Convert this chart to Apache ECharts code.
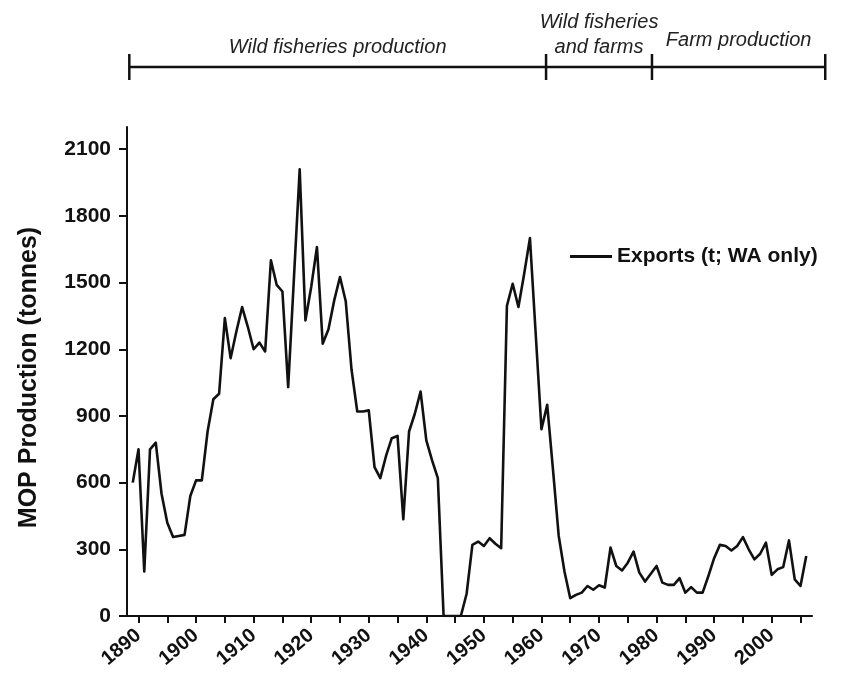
<!DOCTYPE html>
<html>
<head>
<meta charset="utf-8">
<script src="https://cdn.jsdelivr.net/npm/echarts@6/dist/echarts.min.js"></script>
<style>
html,body{margin:0;padding:0;background:#fff;}
#chart{width:854px;height:673px;}
</style>
</head>
<body>
<div id="chart"></div>
<script>
var years = [];
for (var y = 1889; y <= 2006; y++) years.push(y);
var exportsTonnes = [
  600, 750, 200, 750, 780, 550, 420, 355, 360, 365,
  540, 610, 610, 830, 975, 1000, 1340, 1160, 1280, 1390,
  1300, 1200, 1230, 1190, 1600, 1490, 1460, 1030, 1520, 2010,
  1330, 1480, 1660, 1225, 1290, 1420, 1525, 1416, 1110, 920,
  920, 925, 670, 620, 720, 800, 810, 435, 830, 910,
  1010, 790, 700, 620, 0, 0, 0, 0, 100, 320,
  335, 315, 350, 325, 305, 1395, 1495, 1390, 1540, 1700,
  1270, 840, 950, 660, 360, 200, 80, 95, 105, 135,
  118, 138, 128, 308, 225, 205, 240, 290, 195, 155,
  190, 225, 150, 140, 140, 170, 105, 130, 105, 105,
  180, 260, 320, 315, 295, 315, 355, 300, 255, 280,
  330, 185, 210, 220, 340, 165, 135, 270
];
var xLabelYears = [1890, 1900, 1910, 1920, 1930, 1940, 1950, 1960, 1970, 1980, 1990, 2000];
var xTickYears = [];
for (var t = 1890; t <= 2005; t += 5) xTickYears.push(t);
var yTicks = [0, 300, 600, 900, 1200, 1500, 1800, 2100];
var periodBounds = [1888.4, 1960.8, 1979.2, 2009.3];
var periodLabels = [["Wild fisheries production"], ["Wild fisheries", "and farms"], ["Farm production"]];
var seriesName = "Exports (t; WA only)";
var yTitle = "MOP Production (tonnes)";

var FONT = "'Liberation Sans', Arial, sans-serif";
var chart = echarts.init(document.getElementById('chart'), null, {renderer: 'canvas'});
var pts = years.map(function (yr, i) { return [yr, exportsTonnes[i]]; });
var plain = function (v) { return String(v); };

chart.setOption({
  animation: false,
  backgroundColor: '#fff',
  grid: {left: 127, right: 42, top: 127, bottom: 57, containLabel: false},
  legend: {
    left: 565, top: 241,
    itemWidth: 42, itemHeight: 3, itemGap: 10,
    icon: 'rect',
    textStyle: {fontFamily: FONT, fontWeight: 'bold', fontSize: 21, color: '#111'},
    data: [seriesName]
  },
  xAxis: {
    type: 'value', min: 1888, max: 2007,
    splitLine: {show: false},
    axisLine: {lineStyle: {color: '#111', width: 2}},
    axisTick: {show: true, length: 7, lineStyle: {color: '#111', width: 2}, customValues: xTickYears},
    axisLabel: {
      customValues: xLabelYears, rotate: 40, margin: 17, formatter: plain,
      fontFamily: FONT, fontWeight: 'bold', fontSize: 20, color: '#111'
    }
  },
  yAxis: {
    type: 'value', min: 0, max: 2200,
    name: yTitle, nameLocation: 'middle', nameGap: 85, nameRotate: 90,
    nameTextStyle: {fontFamily: FONT, fontWeight: 'bold', fontSize: 25, color: '#111', padding: [0, 12, 0, 0]},
    splitLine: {show: false},
    axisLine: {show: true, lineStyle: {color: '#111', width: 2}},
    axisTick: {show: true, length: 8, lineStyle: {color: '#111', width: 2}, customValues: yTicks},
    axisLabel: {
      customValues: yTicks, margin: 16, formatter: plain,
      fontFamily: FONT, fontWeight: 'bold', fontSize: 21, color: '#111'
    }
  },
  series: [{
    name: seriesName, type: 'line', data: pts,
    symbol: 'none', smooth: false,
    lineStyle: {color: '#111', width: 2.6, join: 'round'},
    itemStyle: {color: '#111'}
  }]
});

// period annotation bar above the plot
var px = periodBounds.map(function (yr) { return chart.convertToPixel({xAxisIndex: 0}, yr); });
var barY = 67;
var g = [];
g.push({type: 'line', shape: {x1: px[0], y1: barY, x2: px[px.length - 1], y2: barY},
  style: {stroke: '#111', lineWidth: 2.5}});
px.forEach(function (x) {
  g.push({type: 'line', shape: {x1: x, y1: barY - 13, x2: x, y2: barY + 13},
    style: {stroke: '#111', lineWidth: 2.5}});
});
var labelY = [[47], [22, 47], [40]];
periodLabels.forEach(function (lines, i) {
  var cx = (px[i] + px[i + 1]) / 2;
  lines.forEach(function (txt, j) {
    g.push({type: 'text', x: cx, y: labelY[i][j],
      style: {text: txt, fontFamily: FONT, fontStyle: 'italic', fontSize: 20, fill: '#222',
        align: 'center', verticalAlign: 'middle'}});
  });
});
chart.setOption({graphic: {elements: g}});
</script>
</body>
</html>
